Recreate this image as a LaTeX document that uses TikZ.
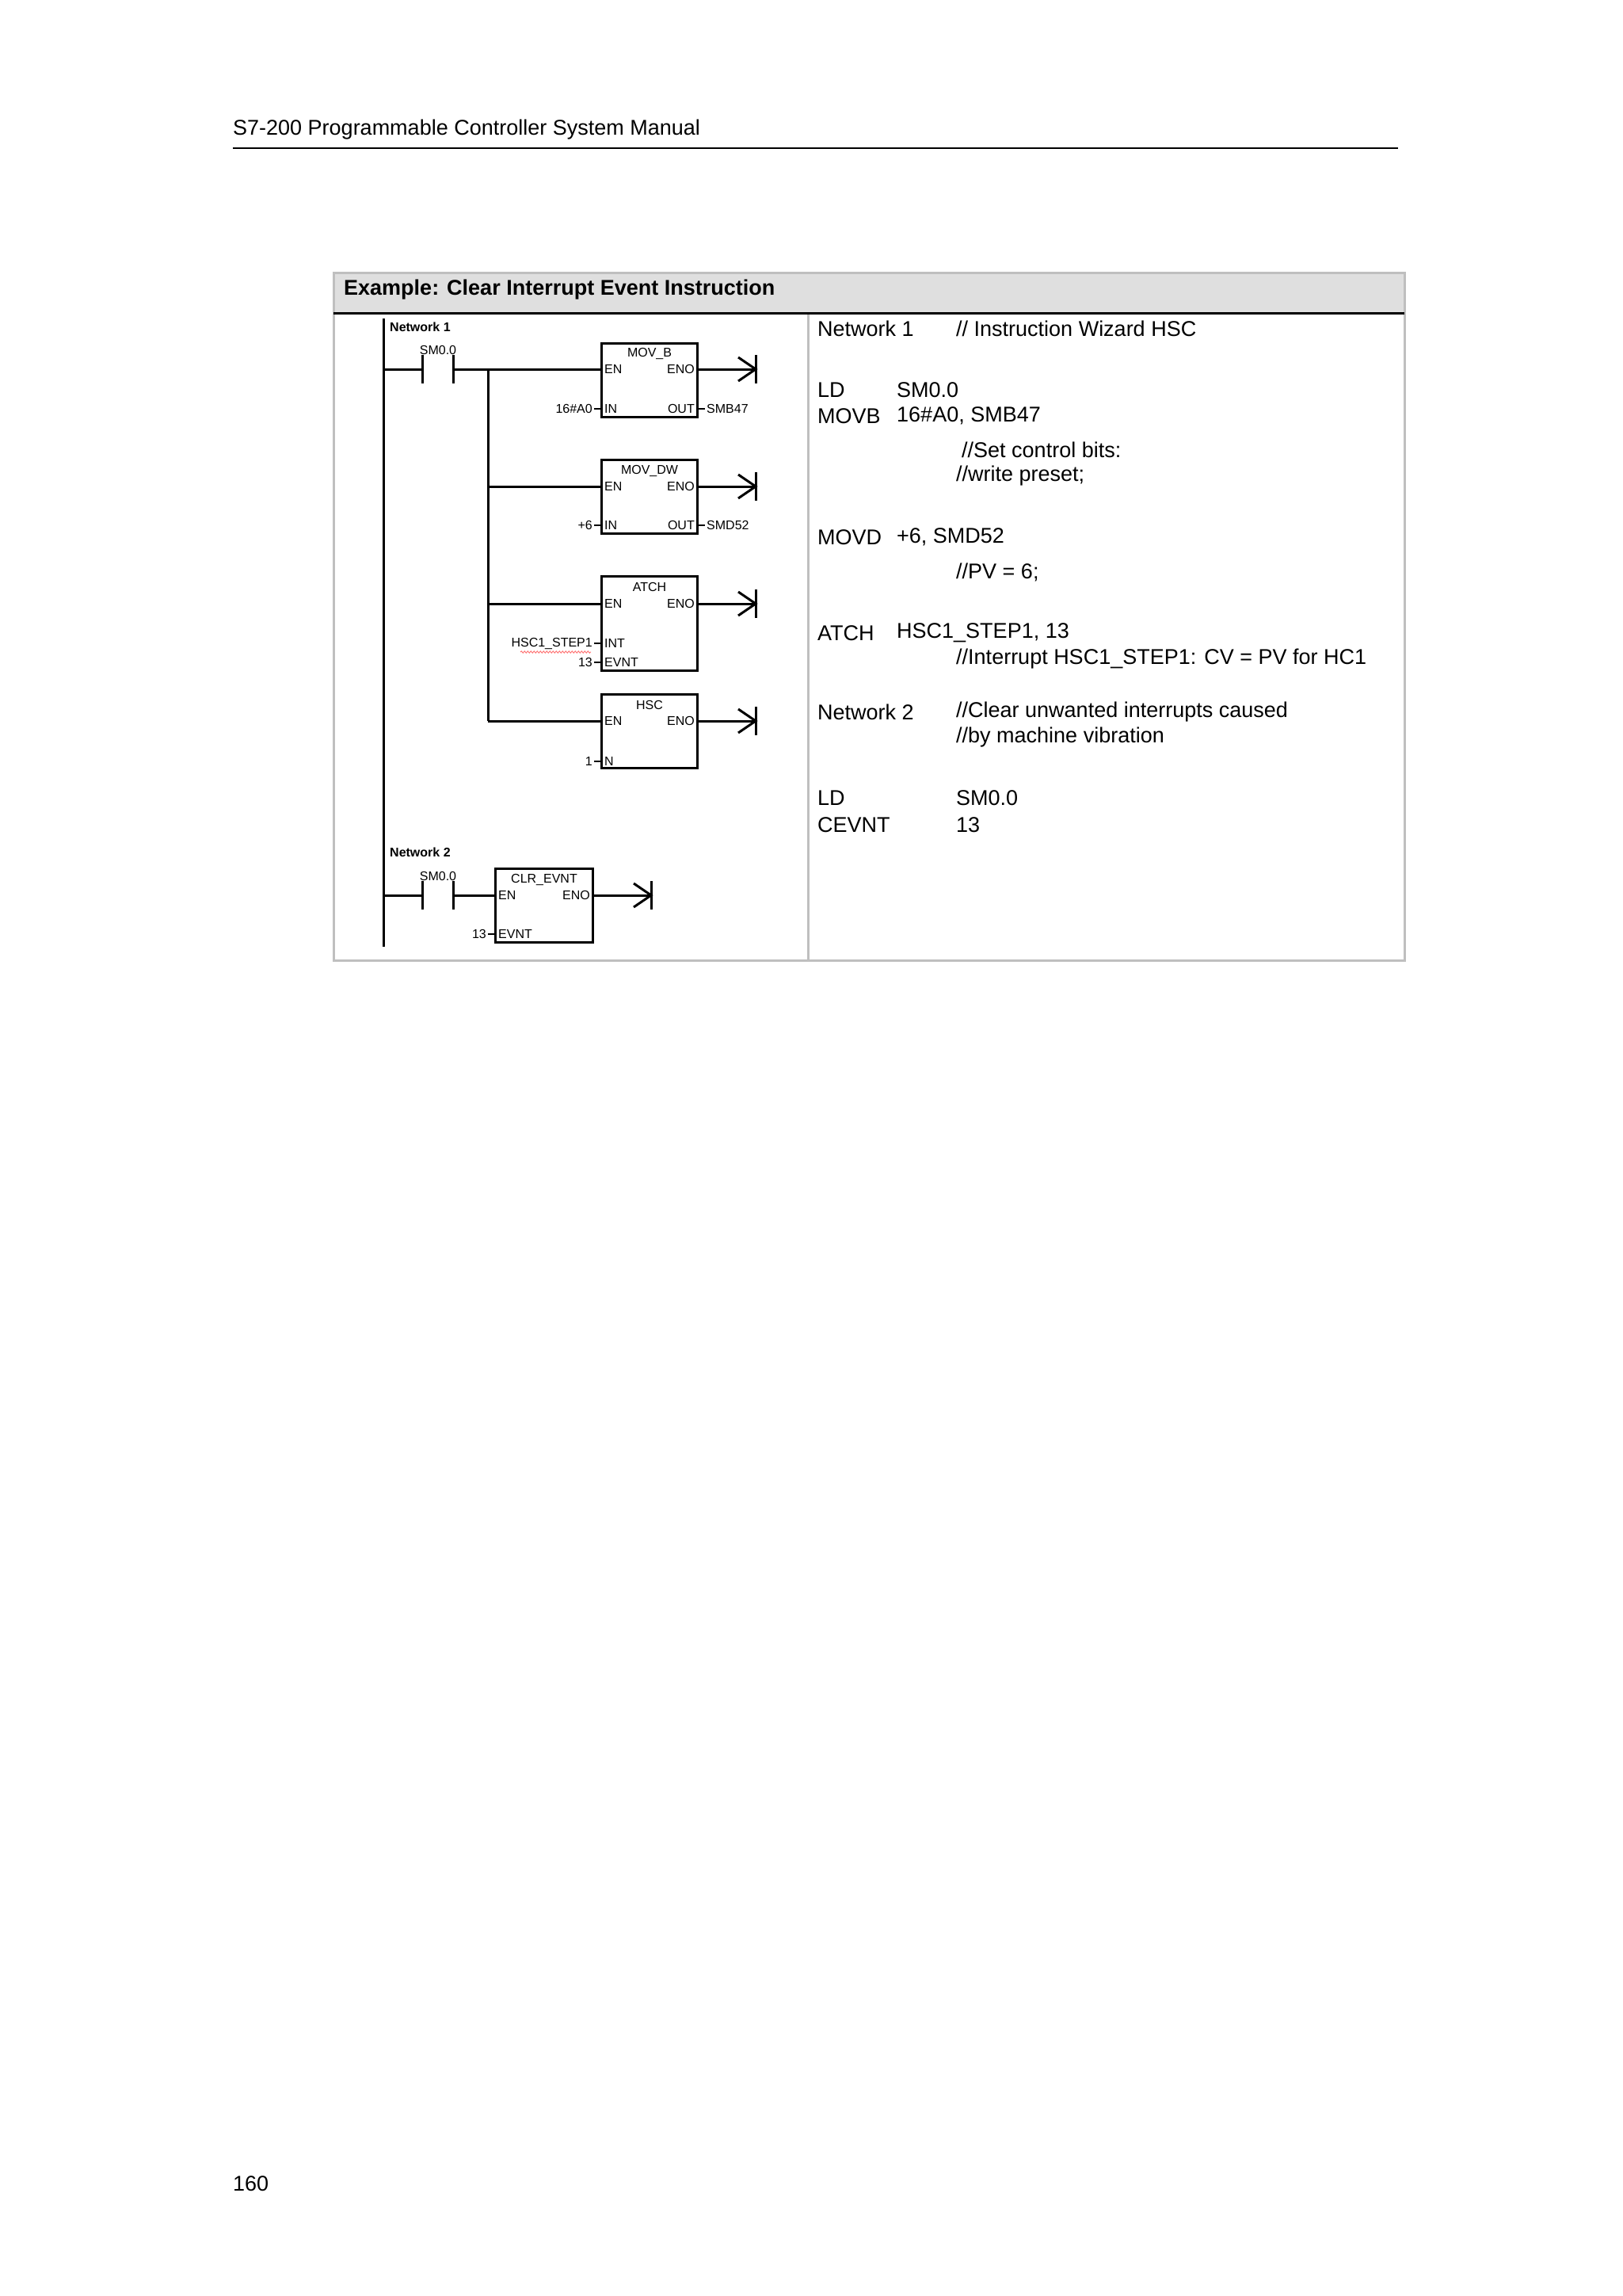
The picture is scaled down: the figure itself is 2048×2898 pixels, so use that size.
\documentclass[tikz,border=0pt]{standalone}
\usepackage{fontspec}
\usetikzlibrary{decorations.pathmorphing}
\setmainfont{Liberation Sans}
\begin{document}
\begin{tikzpicture}[x=1pt,y=-1pt,
  big/.style={font=\fontsize{27}{32}\selectfont,anchor=west,inner sep=0},
  lad/.style={font=\fontsize{16}{19}\selectfont,inner sep=0},
  wire/.style={line width=3pt},
  lbox/.style={draw,line width=3pt,anchor=north west,minimum width=121pt,inner sep=0}]
\useasboundingbox (0,0) rectangle (2048,2898);
\fill[white] (0,0) rectangle (2048,2898);
% page header
\node[big] (hdr) at (294,164) {S7-200 Programmable Controller System Manual};
\draw[line width=1.5pt] (294,187) -- (1765,187);
\node[big] (pg) at (294,2756) {160};
% table
\fill[gray!25] (421,344) rectangle (1773,395);
\draw[gray!50,line width=3pt] (421,344) rectangle (1773,1212);
\draw[gray!50,line width=3pt] (1020,395) -- (1020,1212);
\draw[line width=3pt] (421,395) -- (1773,395);
\node[big,font=\fontsize{27}{32}\selectfont\bfseries] (title) at (434,366) {Example: Clear Interrupt Event Instruction};
% right column text
\node[big] (t1) at (1032,415) {Network 1};
\node[big] (t1c) at (1207,415) {// Instruction Wizard HSC};
\node[big] (t2) at (1032,492) {LD};
\node[big] (t2b) at (1132,492) {SM0.0};
\node[big] (t3) at (1032,525) {MOVB};
\node[big] (t3b) at (1132,525) {16\#A0, SMB47};
\node[big] (t4) at (1214,568) {//Set control bits:};
\node[big] (t5) at (1207,601) {//write preset;};
\node[big] (t6) at (1032,678) {MOVD};
\node[big] (t6b) at (1132,678) {+6, SMD52};
\node[big] (t7) at (1207,722) {//PV = 6;};
\node[big] (t8) at (1032,799) {ATCH};
\node[big] (t8b) at (1132,799) {HSC1\_STEP1, 13};
\node[big] (t9) at (1207,832) {//Interrupt HSC1\_STEP1: CV = PV for HC1};
\node[big] (t10) at (1032,899) {Network 2};
\node[big] (t10c) at (1207,899) {//Clear unwanted interrupts caused};
\node[big] (t11) at (1207,931) {//by machine vibration};
\node[big] (t12) at (1032,1007) {LD};
\node[big] (t12b) at (1207,1007) {SM0.0};
\node[big] (t13) at (1032,1041) {CEVNT};
\node[big] (t13b) at (1207,1041) {13};
% ladder
\draw[wire] (484,402) -- (484,1195);
\node[lad,anchor=west,font=\fontsize{16}{19}\selectfont\bfseries] (n1) at (492,413) {Network 1};
\node[lad,anchor=west,font=\fontsize{16}{19}\selectfont\bfseries] (n2) at (492,1076) {Network 2};
\foreach \y/\nm in {466/c1,1130/c2}{
  \node[lad] (\nm) at (553,\y-24) {SM0.0};
  \draw[wire] (484,\y) -- (533,\y) (533,\y-18) -- (533,\y+18) (572,\y-18) -- (572,\y+18);
}
\draw[wire] (572,466) -- (758,466);
\draw[wire] (616,466) -- (616,910);
\foreach \y in {614,762,910}{ \draw[wire] (616,\y) -- (758,\y); }
% boxes
\node[lbox,minimum height=93pt] (b1) at (758,432) {};
\node[lbox,minimum height=93pt] (b2) at (758,579) {};
\node[lbox,minimum height=119pt] (b3) at (758,726) {};
\node[lbox,minimum height=93pt] (b4) at (758,875) {};
\node[lbox,minimum height=93pt,minimum width=123pt] (b5) at (624,1095) {};
\draw[wire] (572,1130) -- (b5.west |- 0,1130);
\foreach \b/\t/\y in {b1/MOV\_B/466,b2/MOV\_DW/614,b3/ATCH/762,b4/HSC/910,b5/CLR\_EVNT/1130}{
  \node[lad] (\b t) at ([yshift=-15pt]\b.north) {\t};
  \node[lad,anchor=west] (\b en) at ([xshift=5pt]\b.west |- 0,\y) {EN};
  \node[lad,anchor=east] (\b eno) at ([xshift=-5pt]\b.east |- 0,\y) {ENO};
  \coordinate (\b o) at ([xshift=72pt]\b.east |- 0,\y);
  \draw[wire] (\b.east |- 0,\y) -- (\b o);
  \draw[wire] ([yshift=-18pt]\b o) -- ([yshift=18pt]\b o);
  \draw[wire] ([xshift=-22pt,yshift=-15pt]\b o) -- (\b o) -- ([xshift=-22pt,yshift=15pt]\b o);
}
% input pins
\foreach \b/\p/\v/\y in {b1/IN/16\#A0/516,b2/IN/+6/663,b3/INT/HSC1\_STEP1/812,b3/EVNT/13/836,b4/N/1/961,b5/EVNT/13/1179}{
  \node[lad,anchor=west] at ([xshift=5pt]\b.west |- 0,\y) {\p};
  \draw[line width=2pt] (\b.west |- 0,\y) -- ([xshift=-8pt]\b.west |- 0,\y);
  \node[lad,anchor=east] at ([xshift=-10pt]\b.west |- 0,\y) {\v};
}
\draw[red!60,line width=0.8pt,decorate,decoration={snake,amplitude=1.2pt,segment length=4pt}] (657,823) -- (746,823);
\foreach \b/\v/\y in {b1/SMB47/516,b2/SMD52/663}{
  \node[lad,anchor=east] at ([xshift=-5pt]\b.east |- 0,\y) {OUT};
  \draw[line width=2pt] (\b.east |- 0,\y) -- ([xshift=8pt]\b.east |- 0,\y);
  \node[lad,anchor=west] at ([xshift=10pt]\b.east |- 0,\y) {\v};
}
\end{tikzpicture}
\end{document}
